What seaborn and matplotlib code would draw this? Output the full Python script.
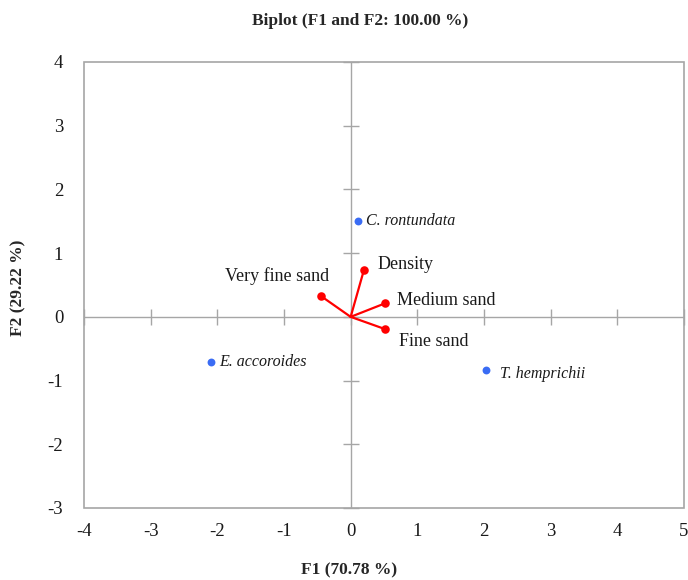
import matplotlib
matplotlib.use("Agg")
import matplotlib.pyplot as plt
import pandas as pd
import seaborn as sns

# Observations (species) in the F1/F2 plane
species = ["C. rontundata", "E. accoroides", "T. hemprichii"]
species_f1 = [0.11, -2.09, 2.03]
species_f2 = [1.51, -0.71, -0.83]

# Variables (loadings)
variables = ["Density", "Medium sand", "Fine sand", "Very fine sand"]
var_f1 = [0.20, 0.51, 0.51, -0.45]
var_f2 = [0.74, 0.21, -0.19, 0.33]

x_ticks = [-4, -3, -2, -1, 0, 1, 2, 3, 4, 5]
y_ticks = [-3, -2, -1, 0, 1, 2, 3, 4]

GREY = "#a6a6a6"
BLUE = "#3a6cf4"
RED = "#ff0000"

sns.set_theme(style="white")
plt.rcParams["font.family"] = ["Liberation Serif", "DejaVu Serif"]
plt.rcParams["axes.unicode_minus"] = False

fig = plt.figure(figsize=(6.88, 5.80), dpi=100)
ax = fig.add_axes([84 / 688, 72 / 580, 600 / 688, 446 / 580])

obs = pd.DataFrame({"name": species, "F1": species_f1, "F2": species_f2})
var = pd.DataFrame({"name": variables, "F1": var_f1, "F2": var_f2})

# zero lines
ax.axhline(0, color=GREY, lw=1.0, zorder=1)
ax.axvline(0, color=GREY, lw=1.0, zorder=1)

# loading vectors from the origin
for _, r in var.iterrows():
    ax.plot([0, r["F1"]], [0, r["F2"]], color=RED, lw=1.6, zorder=3)
sns.scatterplot(data=var, x="F1", y="F2", color=RED, s=38, edgecolor=RED,
                linewidth=0, zorder=4, ax=ax)
sns.scatterplot(data=obs, x="F1", y="F2", color=BLUE, s=32, edgecolor=BLUE,
                linewidth=0, zorder=4, ax=ax)

var_offsets = {
    "Density": ((10, 4), "left", "center"),
    "Medium sand": ((9, 2), "left", "center"),
    "Fine sand": ((10, -9), "left", "center"),
    "Very fine sand": ((6, 14), "right", "center"),
}
for _, r in var.iterrows():
    off, ha, va = var_offsets[r["name"]]
    ax.annotate(r["name"], (r["F1"], r["F2"]), xytext=off,
                textcoords="offset points", ha=ha, va=va, fontsize=13,
                color="#1a1a1a")

obs_offsets = {
    "C. rontundata": (6, 0),
    "E. accoroides": (6, 0),
    "T. hemprichii": (10, -3),
}
for _, r in obs.iterrows():
    ax.annotate(r["name"], (r["F1"], r["F2"]), xytext=obs_offsets[r["name"]],
                textcoords="offset points", ha="left", va="center",
                fontsize=11.5, fontstyle="italic", color="#1a1a1a")

ax.set_xlim(x_ticks[0], x_ticks[-1])
ax.set_ylim(y_ticks[0], y_ticks[-1])
ax.set_xticks(x_ticks)
ax.set_yticks(y_ticks)
ax.set_xlabel("")
ax.set_ylabel("")

# border drawn by the axes patch; top/right spines moved onto the zero lines
ax.patch.set_edgecolor(GREY)
ax.patch.set_linewidth(1.2)
ax.spines["top"].set_position(("data", 0))
ax.spines["right"].set_position(("data", 0))
for s in ax.spines.values():
    s.set_visible(False)
ax.tick_params(axis="x", bottom=False, top=True, labelbottom=True,
               labeltop=False, direction="inout", length=12, width=1,
               color=GREY, pad=5, labelsize=13.5)
ax.tick_params(axis="y", left=False, right=True, labelleft=True,
               labelright=False, direction="inout", length=12, width=1,
               color=GREY, pad=9, labelsize=13.5)
for lab in ax.get_xticklabels() + ax.get_yticklabels():
    lab.set_color("#1a1a1a")

fig.text(360 / 688, 1 - 21 / 580, "Biplot (F1 and F2: 100.00 %)",
         ha="center", va="center", fontsize=12.5, fontweight="bold")
fig.text(349 / 688, 1 - 570 / 580, "F1 (70.78 %)", ha="center",
         va="center", fontsize=12.5, fontweight="bold")
fig.text(18 / 688, 1 - 288 / 580, "F2 (29.22 %)", ha="center",
         va="center", rotation=90, fontsize=12.5, fontweight="bold")

fig.savefig("out.png", dpi=100)
plt.close(fig)
